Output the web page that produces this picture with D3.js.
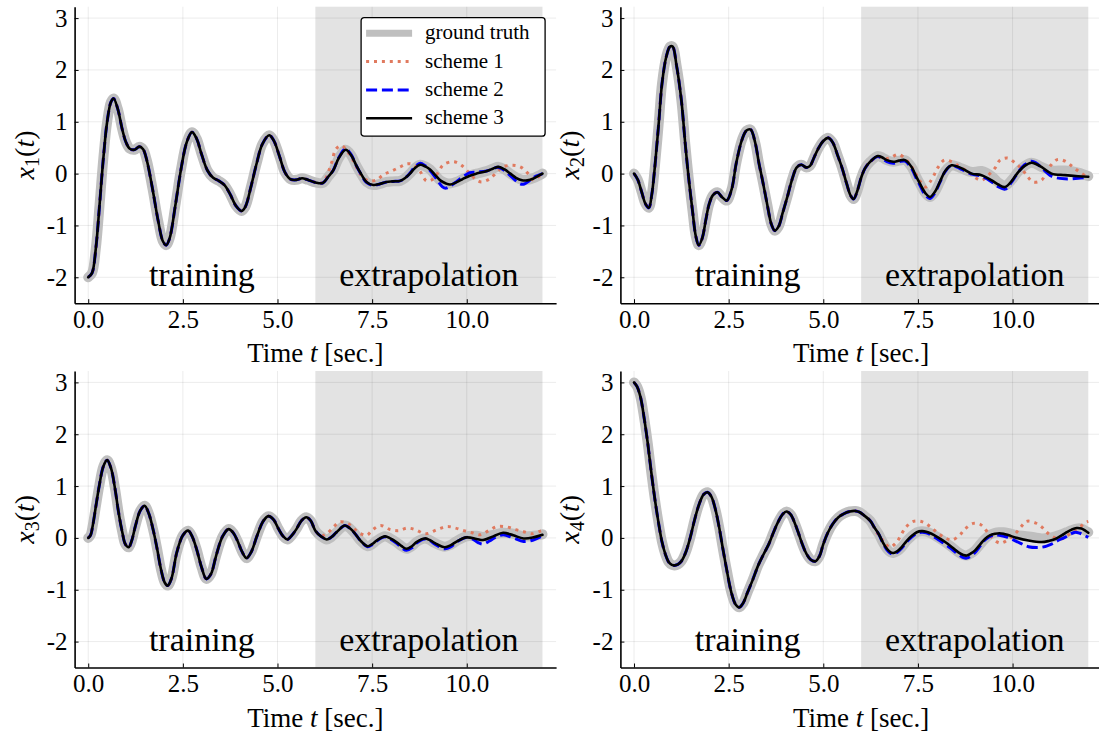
<!DOCTYPE html>
<html>
<head>
<meta charset="utf-8">
<script src="https://cdn.jsdelivr.net/npm/d3@7"></script>
<style>
  body { margin: 0; background: #fff; }
  svg { display: block; }
  text { font-family: "Liberation Serif", "DejaVu Serif", serif; fill: #000; }
</style>
</head>
<body>
<script>

// data: [t, value]
// training part (t <= 6) is shared by all four curves

var x1_train = [[0,-2.0],[0.1,-1.92],[0.2,-1.45],[0.3,-0.6],[0.4,0.3],[0.5,1.0],[0.6,1.38],[0.67,1.45],[0.78,1.25],[0.9,0.85],[1.0,0.6],[1.1,0.48],[1.22,0.46],[1.35,0.52],[1.45,0.47],[1.55,0.25],[1.7,-0.3],[1.85,-0.92],[1.97,-1.3],[2.06,-1.38],[2.15,-1.25],[2.3,-0.62],[2.45,0.08],[2.6,0.6],[2.74,0.8],[2.86,0.68],[3.0,0.36],[3.15,0.06],[3.3,-0.08],[3.45,-0.14],[3.6,-0.22],[3.75,-0.4],[3.9,-0.62],[4.05,-0.72],[4.15,-0.64],[4.3,-0.25],[4.45,0.2],[4.6,0.57],[4.78,0.74],[4.9,0.64],[5.05,0.34],[5.2,0.02],[5.35,-0.11],[5.5,-0.12],[5.65,-0.09],[5.8,-0.12],[6.0,-0.17]];
var x1_truth_ext = [[6.2,-0.18],[6.35,-0.05],[6.47,0.06],[6.62,0.3],[6.8,0.46],[6.95,0.35],[7.08,0.16],[7.22,-0.02],[7.35,-0.16],[7.53,-0.22],[7.7,-0.2],[7.88,-0.16],[8.05,-0.15],[8.24,-0.14],[8.38,-0.08],[8.5,0.0],[8.62,0.1],[8.77,0.17],[8.9,0.14],[9.03,0.08],[9.17,-0.03],[9.3,-0.13],[9.45,-0.18],[9.56,-0.19],[9.72,-0.16],[9.9,-0.1],[10.08,-0.04],[10.26,0.0],[10.53,0.05],[10.7,0.1],[10.84,0.13],[11.0,0.08],[11.15,0.0],[11.3,-0.07],[11.46,-0.12],[11.6,-0.12],[11.75,-0.09],[11.9,-0.04],[12.0,0.0]];
var x1_s1_ext = [[6.1,-0.2],[6.24,-0.13],[6.42,0.19],[6.55,0.48],[6.7,0.54],[6.82,0.45],[6.95,0.32],[7.08,0.13],[7.21,-0.03],[7.4,-0.14],[7.62,-0.12],[7.8,-0.02],[8.02,0.05],[8.24,0.13],[8.42,0.19],[8.6,0.17],[8.76,0.05],[8.94,-0.14],[9.12,-0.1],[9.25,0.03],[9.38,0.17],[9.65,0.23],[9.86,0.16],[10.08,0.0],[10.25,-0.12],[10.39,-0.16],[10.61,-0.1],[10.8,0.03],[10.96,0.13],[11.22,0.16],[11.44,0.12],[11.62,0.0],[11.75,-0.12],[11.9,-0.06],[12.0,0.0]];
var x1_s2_ext = [[6.2,-0.18],[6.35,-0.05],[6.47,0.06],[6.62,0.31],[6.8,0.48],[6.95,0.36],[7.08,0.16],[7.22,-0.03],[7.35,-0.17],[7.53,-0.23],[7.7,-0.2],[7.88,-0.16],[8.05,-0.15],[8.24,-0.14],[8.38,-0.08],[8.5,0.01],[8.62,0.12],[8.77,0.2],[8.9,0.15],[9.03,0.06],[9.2,-0.1],[9.35,-0.25],[9.45,-0.28],[9.56,-0.24],[9.72,-0.16],[9.9,-0.06],[10.08,0.02],[10.26,0.03],[10.53,0.05],[10.7,0.1],[10.84,0.12],[11.0,0.06],[11.15,-0.04],[11.3,-0.14],[11.42,-0.2],[11.52,-0.2],[11.65,-0.14],[11.8,-0.06],[11.9,-0.03],[12.0,0.0]];
var x1_s3_ext = [[6.2,-0.18],[6.35,-0.05],[6.47,0.06],[6.62,0.3],[6.8,0.46],[6.95,0.35],[7.08,0.16],[7.22,-0.02],[7.35,-0.16],[7.53,-0.22],[7.7,-0.2],[7.88,-0.16],[8.05,-0.15],[8.24,-0.14],[8.38,-0.08],[8.5,0.0],[8.62,0.1],[8.77,0.17],[8.9,0.14],[9.03,0.08],[9.17,-0.03],[9.3,-0.13],[9.45,-0.19],[9.56,-0.21],[9.72,-0.17],[9.9,-0.1],[10.08,-0.04],[10.26,0.0],[10.53,0.05],[10.7,0.1],[10.84,0.13],[11.0,0.08],[11.15,0.0],[11.3,-0.08],[11.46,-0.13],[11.6,-0.13],[11.75,-0.1],[11.9,-0.04],[12.0,0.0]];

var x2_train = [[0,0],[0.1,-0.12],[0.2,-0.35],[0.3,-0.58],[0.39,-0.66],[0.47,-0.4],[0.55,0.13],[0.65,0.95],[0.74,1.74],[0.85,2.25],[0.95,2.45],[1.02,2.45],[1.12,2.1],[1.25,1.42],[1.35,0.6],[1.44,-0.06],[1.55,-0.75],[1.63,-1.2],[1.71,-1.38],[1.8,-1.25],[1.9,-0.88],[1.98,-0.6],[2.08,-0.42],[2.2,-0.36],[2.32,-0.45],[2.45,-0.52],[2.58,-0.3],[2.7,0.2],[2.85,0.65],[2.97,0.83],[3.08,0.85],[3.2,0.6],[3.3,0.2],[3.4,-0.15],[3.52,-0.6],[3.63,-0.98],[3.72,-1.1],[3.82,-1.02],[3.93,-0.75],[4.05,-0.45],[4.18,-0.1],[4.3,0.12],[4.42,0.17],[4.55,0.12],[4.65,0.15],[4.75,0.3],[4.85,0.46],[5.0,0.63],[5.13,0.69],[5.25,0.6],[5.38,0.35],[5.5,0.1],[5.62,-0.2],[5.72,-0.42],[5.8,-0.49],[5.9,-0.33],[6.0,-0.08]];
var x2_truth_ext = [[6.1,0.1],[6.24,0.23],[6.44,0.34],[6.56,0.31],[6.68,0.26],[6.85,0.23],[7.0,0.25],[7.16,0.26],[7.33,0.13],[7.45,-0.05],[7.55,-0.19],[7.7,-0.38],[7.82,-0.45],[7.95,-0.35],[8.08,-0.16],[8.22,0.05],[8.39,0.16],[8.52,0.14],[8.66,0.1],[8.92,0.03],[9.18,0.05],[9.45,-0.05],[9.62,-0.17],[9.8,-0.23],[9.98,-0.12],[10.15,0.04],[10.32,0.15],[10.5,0.21],[10.63,0.18],[10.76,0.13],[11.03,0.06],[11.38,0.06],[11.73,0.02],[12.0,-0.05]];
var x2_s1_ext = [[6.1,0.1],[6.24,0.23],[6.46,0.32],[6.62,0.29],[6.76,0.3],[6.98,0.37],[7.16,0.29],[7.3,0.17],[7.42,0.03],[7.55,-0.14],[7.69,-0.26],[7.82,-0.16],[7.93,-0.02],[8.04,0.13],[8.2,0.26],[8.39,0.23],[8.61,0.13],[8.83,0.03],[9.0,-0.07],[9.18,-0.13],[9.36,-0.03],[9.54,0.11],[9.67,0.26],[9.87,0.3],[10.06,0.21],[10.23,0.1],[10.39,-0.05],[10.54,-0.16],[10.76,-0.13],[10.89,0.02],[11.01,0.16],[11.18,0.27],[11.39,0.24],[11.59,0.13],[11.77,0.03],[11.95,-0.05],[12.0,-0.06]];
var x2_s2_ext = [[6.1,0.1],[6.24,0.23],[6.44,0.33],[6.56,0.29],[6.68,0.23],[6.85,0.2],[7.0,0.23],[7.16,0.24],[7.33,0.1],[7.45,-0.08],[7.55,-0.22],[7.7,-0.42],[7.82,-0.48],[7.95,-0.37],[8.08,-0.17],[8.22,0.04],[8.39,0.16],[8.52,0.13],[8.66,0.08],[8.92,-0.01],[9.18,-0.05],[9.45,-0.16],[9.62,-0.25],[9.8,-0.3],[9.98,-0.16],[10.15,0.03],[10.32,0.17],[10.5,0.24],[10.63,0.2],[10.76,0.12],[11.03,-0.05],[11.38,-0.1],[11.73,-0.09],[12.0,-0.07]];
var x2_s3_ext = [[6.1,0.1],[6.24,0.23],[6.44,0.34],[6.56,0.31],[6.68,0.26],[6.85,0.23],[7.0,0.25],[7.16,0.26],[7.33,0.13],[7.45,-0.05],[7.55,-0.19],[7.7,-0.38],[7.82,-0.45],[7.95,-0.35],[8.08,-0.16],[8.22,0.05],[8.39,0.16],[8.52,0.14],[8.66,0.1],[8.92,0.0],[9.18,-0.03],[9.45,-0.13],[9.62,-0.21],[9.8,-0.26],[9.98,-0.14],[10.15,0.03],[10.32,0.15],[10.5,0.21],[10.63,0.18],[10.76,0.13],[11.03,0.0],[11.38,-0.03],[11.73,-0.05],[12.0,-0.06]];

var x3_train = [[0,0],[0.06,0.05],[0.12,0.24],[0.2,0.6],[0.29,1.0],[0.4,1.38],[0.5,1.5],[0.6,1.35],[0.71,0.94],[0.8,0.5],[0.9,0.11],[0.98,-0.12],[1.07,-0.18],[1.15,-0.05],[1.25,0.24],[1.37,0.52],[1.49,0.62],[1.6,0.47],[1.73,0.11],[1.83,-0.25],[1.92,-0.6],[2.02,-0.86],[2.1,-0.92],[2.2,-0.78],[2.34,-0.28],[2.5,0.05],[2.64,0.14],[2.75,0.02],[2.86,-0.21],[3.0,-0.58],[3.12,-0.79],[3.24,-0.7],[3.38,-0.34],[3.55,0.03],[3.71,0.17],[3.83,0.1],[3.94,-0.05],[4.06,-0.26],[4.18,-0.39],[4.3,-0.28],[4.46,0.04],[4.62,0.32],[4.76,0.42],[4.9,0.35],[5.03,0.17],[5.15,0.03],[5.26,-0.03],[5.38,0.05],[5.5,0.17],[5.63,0.33],[5.76,0.4],[5.88,0.33],[6.0,0.14]];
var x3_truth_ext = [[6.15,0.03],[6.3,-0.03],[6.43,0.02],[6.56,0.11],[6.78,0.24],[6.92,0.18],[7.05,0.08],[7.2,-0.06],[7.38,-0.16],[7.5,-0.12],[7.62,-0.05],[7.84,0.03],[7.98,-0.01],[8.14,-0.08],[8.28,-0.16],[8.41,-0.21],[8.55,-0.16],[8.67,-0.08],[8.89,-0.01],[9.02,-0.04],[9.16,-0.1],[9.42,-0.17],[9.58,-0.13],[9.73,-0.06],[9.99,0.03],[10.26,0.04],[10.43,0.02],[10.7,0.06],[10.96,0.1],[11.23,0.08],[11.5,0.03],[11.76,0.04],[12.0,0.07]];
var x3_s1_ext = [[6.15,0.04],[6.3,0.08],[6.48,0.21],[6.65,0.31],[6.87,0.27],[7.05,0.16],[7.23,0.07],[7.36,0.05],[7.52,0.16],[7.72,0.24],[7.98,0.16],[8.2,0.14],[8.42,0.19],[8.64,0.16],[8.91,0.08],[9.22,0.16],[9.48,0.22],[9.7,0.19],[9.92,0.14],[10.14,0.1],[10.36,0.06],[10.58,0.14],[10.8,0.22],[11.07,0.21],[11.29,0.16],[11.5,0.12],[11.73,0.08],[11.95,0.13],[12.0,0.14]];
var x3_s2_ext = [[6.15,0.03],[6.3,-0.03],[6.43,0.02],[6.56,0.11],[6.78,0.24],[6.92,0.18],[7.05,0.08],[7.2,-0.06],[7.38,-0.17],[7.5,-0.13],[7.62,-0.06],[7.84,0.02],[7.98,-0.02],[8.14,-0.1],[8.28,-0.19],[8.41,-0.24],[8.55,-0.19],[8.67,-0.1],[8.89,-0.02],[9.02,-0.05],[9.16,-0.12],[9.42,-0.21],[9.58,-0.17],[9.73,-0.08],[9.99,0.01],[10.15,-0.02],[10.3,-0.09],[10.43,-0.12],[10.6,-0.06],[10.75,0.01],[10.96,0.06],[11.23,0.0],[11.5,-0.07],[11.76,-0.04],[12.0,0.04]];
var x3_s3_ext = [[6.15,0.03],[6.3,-0.03],[6.43,0.02],[6.56,0.11],[6.78,0.24],[6.92,0.18],[7.05,0.08],[7.2,-0.06],[7.38,-0.16],[7.5,-0.12],[7.62,-0.05],[7.84,0.03],[7.98,-0.01],[8.14,-0.08],[8.28,-0.16],[8.41,-0.21],[8.55,-0.16],[8.67,-0.08],[8.89,-0.01],[9.02,-0.04],[9.16,-0.1],[9.42,-0.18],[9.58,-0.14],[9.73,-0.07],[9.99,0.01],[10.26,-0.02],[10.43,-0.04],[10.7,0.03],[10.96,0.1],[11.23,0.05],[11.5,-0.01],[11.76,0.01],[12.0,0.06]];

var x4_train = [[0,3.0],[0.08,2.92],[0.17,2.72],[0.27,2.3],[0.36,1.84],[0.45,1.3],[0.55,0.75],[0.65,0.28],[0.74,-0.08],[0.83,-0.32],[0.92,-0.47],[1.0,-0.52],[1.07,-0.53],[1.16,-0.51],[1.25,-0.45],[1.37,-0.27],[1.49,0.02],[1.6,0.35],[1.72,0.65],[1.84,0.84],[1.94,0.88],[2.04,0.8],[2.15,0.55],[2.25,0.2],[2.34,-0.18],[2.45,-0.62],[2.57,-1.05],[2.68,-1.28],[2.78,-1.34],[2.88,-1.26],[3.0,-1.05],[3.14,-0.8],[3.28,-0.53],[3.42,-0.32],[3.56,-0.12],[3.68,0.1],[3.8,0.3],[3.93,0.46],[4.03,0.51],[4.14,0.45],[4.25,0.28],[4.35,0.08],[4.45,-0.13],[4.55,-0.3],[4.67,-0.42],[4.79,-0.45],[4.9,-0.35],[5.0,-0.12],[5.12,0.1],[5.25,0.27],[5.4,0.4],[5.55,0.47],[5.7,0.51],[5.85,0.52],[5.95,0.5],[6.05,0.45]];
var x4_truth_ext = [[6.24,0.33],[6.35,0.2],[6.46,0.08],[6.57,-0.08],[6.68,-0.21],[6.78,-0.28],[6.85,-0.29],[6.95,-0.26],[7.07,-0.18],[7.2,-0.06],[7.34,0.04],[7.47,0.11],[7.6,0.13],[7.72,0.12],[7.86,0.08],[8.05,0.0],[8.22,-0.08],[8.4,-0.18],[8.57,-0.28],[8.7,-0.33],[8.79,-0.34],[8.9,-0.3],[9.01,-0.24],[9.15,-0.12],[9.27,-0.02],[9.4,0.06],[9.54,0.1],[9.65,0.11],[9.76,0.11],[9.9,0.09],[10.07,0.06],[10.42,0.03],[10.77,-0.01],[10.95,0.0],[11.13,0.03],[11.3,0.07],[11.43,0.11],[11.56,0.15],[11.69,0.18],[11.82,0.18],[11.92,0.14],[12.0,0.11]];
var x4_s1_ext = [[6.24,0.33],[6.4,0.12],[6.54,-0.02],[6.65,-0.12],[6.76,-0.18],[6.94,-0.08],[7.07,0.08],[7.2,0.22],[7.38,0.32],[7.62,0.31],[7.82,0.22],[8.0,0.11],[8.2,0.01],[8.4,-0.04],[8.61,0.06],[8.74,0.17],[8.96,0.28],[9.17,0.25],[9.34,0.11],[9.49,-0.02],[9.67,-0.1],[9.87,-0.04],[10.07,0.08],[10.23,0.22],[10.37,0.32],[10.6,0.29],[10.77,0.21],[10.95,0.08],[11.17,-0.01],[11.37,0.0],[11.56,0.11],[11.78,0.21],[11.93,0.3],[12.0,0.32]];
var x4_s2_ext = [[6.24,0.33],[6.35,0.2],[6.46,0.08],[6.57,-0.09],[6.68,-0.23],[6.78,-0.3],[6.85,-0.31],[6.95,-0.28],[7.07,-0.2],[7.2,-0.08],[7.34,0.02],[7.47,0.09],[7.6,0.11],[7.72,0.1],[7.86,0.05],[8.05,-0.04],[8.22,-0.12],[8.4,-0.22],[8.57,-0.32],[8.7,-0.38],[8.79,-0.39],[8.9,-0.35],[9.01,-0.28],[9.15,-0.15],[9.27,-0.04],[9.4,0.03],[9.54,0.06],[9.65,0.05],[9.87,0.01],[10.2,-0.1],[10.42,-0.17],[10.77,-0.18],[11.03,-0.12],[11.2,-0.05],[11.38,0.01],[11.52,0.07],[11.65,0.11],[11.78,0.09],[11.87,0.06],[12.0,0.01]];
var x4_s3_ext = [[6.24,0.33],[6.35,0.2],[6.46,0.08],[6.57,-0.08],[6.68,-0.21],[6.78,-0.28],[6.85,-0.29],[6.95,-0.26],[7.07,-0.18],[7.2,-0.06],[7.34,0.04],[7.47,0.11],[7.6,0.13],[7.72,0.12],[7.86,0.08],[8.05,0.0],[8.22,-0.08],[8.4,-0.18],[8.57,-0.28],[8.7,-0.33],[8.79,-0.34],[8.9,-0.3],[9.01,-0.24],[9.15,-0.12],[9.27,-0.02],[9.4,0.05],[9.54,0.08],[9.65,0.09],[9.76,0.08],[9.9,0.05],[10.07,0.01],[10.42,-0.05],[10.77,-0.08],[10.95,-0.06],[11.13,-0.02],[11.3,0.05],[11.43,0.11],[11.56,0.16],[11.69,0.19],[11.82,0.18],[11.92,0.14],[12.0,0.1]];

var x_ticks = [0, 2.5, 5, 7.5, 10];
var y_ticks = [-2, -1, 0, 1, 2, 3];
var split_t = 6, end_t = 12;
var legend_labels = ["ground truth", "scheme 1", "scheme 2", "scheme 3"];

var width = 1099,
    height = 738;

var svg = d3.select("body").append("svg")
    .attr("width", width)
    .attr("height", height);

var pw = 481.5, ph = 296.5;

var panels = [
  {left: 74.6,  top: 6.7, sub: "1", train: x1_train, ext: [x1_truth_ext, x1_s1_ext, x1_s2_ext, x1_s3_ext], legend: true},
  {left: 620.4, top: 6.7, sub: "2", train: x2_train, ext: [x2_truth_ext, x2_s1_ext, x2_s2_ext, x2_s3_ext]},
  {left: 74.6,  top: 371, sub: "3", train: x3_train, ext: [x3_truth_ext, x3_s1_ext, x3_s2_ext, x3_s3_ext]},
  {left: 620.4, top: 371, sub: "4", train: x4_train, ext: [x4_truth_ext, x4_s1_ext, x4_s2_ext, x4_s3_ext]}
];

// line styles, same order as legend_labels
var styles = [
  {color: "#bfbfbf", w: 10,  dash: null,        cap: "round"},
  {color: "#e07a5f", w: 3,   dash: "3,4.9",     cap: "butt"},
  {color: "#0000ff", w: 3,   dash: "11,4.8",    cap: "butt"},
  {color: "#000000", w: 2.6, dash: null,        cap: "round"}
];

var x = d3.scaleLinear().domain([-0.36, 12.36]).range([0, pw]);
var y = d3.scaleLinear().domain([-2.5, 3.22]).range([ph, 0]);

var line = d3.line()
    .x(d => x(d[0]))
    .y(d => y(d[1]))
    .curve(d3.curveCatmullRom.alpha(0.5));

panels.forEach(function (p) {
  var g = svg.append("g").attr("transform", "translate(" + p.left + "," + p.top + ")");

  // shaded extrapolation window
  g.append("rect")
    .attr("x", x(split_t)).attr("y", 0)
    .attr("width", x(end_t) - x(split_t)).attr("height", ph)
    .attr("fill", "#e3e3e3");

  // grid
  g.selectAll(".vg").data(x_ticks).enter().append("line")
    .attr("x1", d => x(d)).attr("x2", d => x(d))
    .attr("y1", 0).attr("y2", ph)
    .attr("stroke", "#000").attr("stroke-opacity", 0.08);
  g.selectAll(".hg").data(y_ticks).enter().append("line")
    .attr("x1", 0).attr("x2", pw)
    .attr("y1", d => y(d)).attr("y2", d => y(d))
    .attr("stroke", "#000").attr("stroke-opacity", 0.08);

  g.append("text").attr("x", x(3)).attr("y", y(-2) + 9)
    .attr("text-anchor", "middle").attr("font-size", 34).text("training");
  g.append("text").attr("x", x(9)).attr("y", y(-2) + 9)
    .attr("text-anchor", "middle").attr("font-size", 34).text("extrapolation");

  // curves
  p.ext.forEach(function (ext, i) {
    var s = styles[i];
    g.append("path")
      .datum(p.train.concat(ext))
      .attr("d", line)
      .attr("fill", "none")
      .attr("stroke", s.color)
      .attr("stroke-width", s.w)
      .attr("stroke-linecap", s.cap)
      .attr("stroke-linejoin", "round")
      .attr("stroke-dasharray", s.dash);
  });

  // axes
  var xa = g.append("g").attr("transform", "translate(0," + ph + ")")
    .call(d3.axisBottom(x).tickValues(x_ticks).tickFormat(d3.format(".1f"))
      .tickSizeInner(-4).tickSizeOuter(0).tickPadding(7));
  var ya = g.append("g")
    .call(d3.axisLeft(y).tickValues(y_ticks).tickFormat(d => String(d))
      .tickSizeInner(-4).tickSizeOuter(0).tickPadding(7));
  [xa, ya].forEach(function (a) {
    a.select(".domain").attr("stroke-width", 1.6);
    a.selectAll("text").attr("font-size", 25).attr("font-family", "Liberation Serif").attr("fill", "#000");
  });

  // axis labels
  var xl = g.append("text").attr("x", pw / 2).attr("y", ph + 59)
    .attr("text-anchor", "middle").attr("font-size", 27);
  xl.append("tspan").text("Time ");
  xl.append("tspan").attr("font-style", "italic").text("t");
  xl.append("tspan").text(" [sec.]");

  var yl = g.append("text")
    .attr("transform", "translate(-41," + (ph / 2) + ") rotate(-90)")
    .attr("text-anchor", "middle").attr("font-size", 28);
  yl.append("tspan").attr("font-style", "italic").text("x");
  yl.append("tspan").attr("font-size", 20).attr("dy", 5).text(p.sub);
  yl.append("tspan").attr("dy", -5).text("(");
  yl.append("tspan").attr("font-style", "italic").text("t");
  yl.append("tspan").text(")");

  if (p.legend) {
    var lg = g.append("g").attr("transform", "translate(286.5,11)");
    lg.append("rect")
      .attr("width", 184).attr("height", 118.5)
      .attr("rx", 3).attr("fill", "#fff")
      .attr("stroke", "#000").attr("stroke-width", 1.3);
    legend_labels.forEach(function (lab, i) {
      var s = styles[i], yy = 15.6 + i * 28.3;
      lg.append("line")
        .attr("x1", 5).attr("x2", 51).attr("y1", yy).attr("y2", yy)
        .attr("stroke", s.color).attr("stroke-width", i == 0 ? 7 : s.w)
        .attr("stroke-dasharray", s.dash);
      lg.append("text").attr("x", 64).attr("y", yy + 6)
        .attr("font-size", 21).text(lab);
    });
  }
});

</script>
</body>
</html>
